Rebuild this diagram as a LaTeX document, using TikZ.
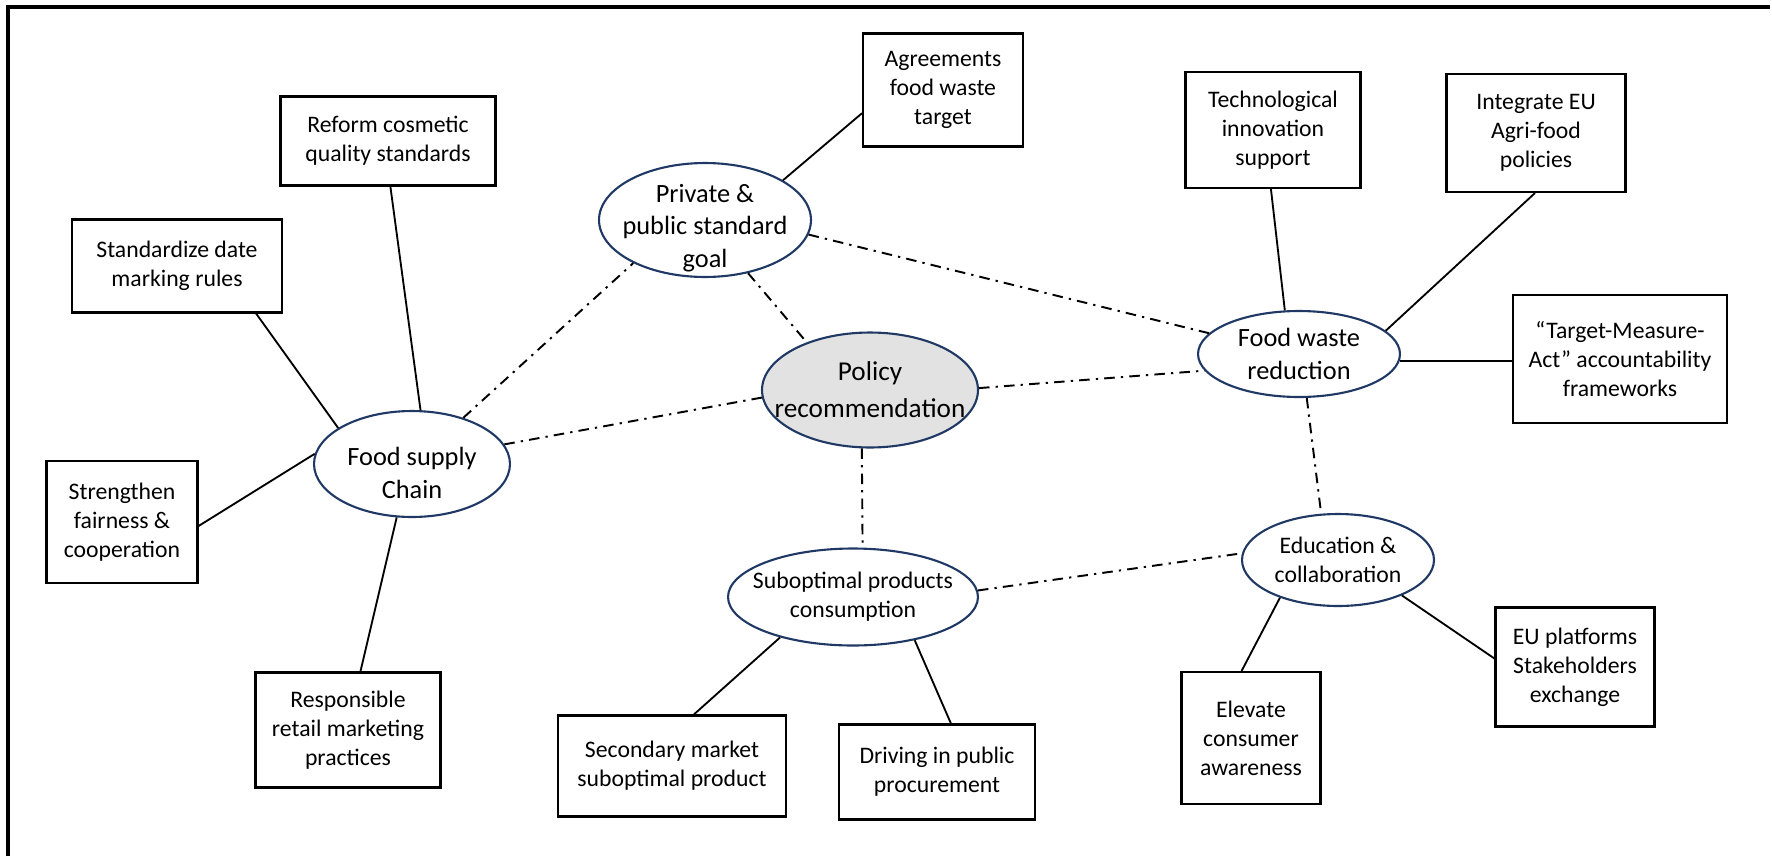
\documentclass[tikz,border=0pt]{standalone}
\usepackage{fontspec}
\setmainfont{Carlito}
\usetikzlibrary{shapes.geometric}
\definecolor{hubline}{RGB}{31,56,100}
\definecolor{hubfill}{RGB}{226,226,226}
\tikzset{
  leaf/.style={draw, line width=1.2pt, align=center, inner sep=0pt, font=\fontsize{13.5}{16.5}\selectfont},
  hub/.style={ellipse, draw=hubline, line width=1.2pt, inner sep=0pt},
  hubtext/.style={align=center, font=\fontsize{15}{18.5}\selectfont},
  smalltext/.style={align=center, font=\fontsize{13.5}{16.5}\selectfont},
  link/.style={line width=1.05pt},
  dlink/.style={line width=1.1pt, dash pattern=on 6pt off 3.5pt on 1.3pt off 3.5pt},
}
\begin{document}
\begin{tikzpicture}[x=0.02cm, y=-0.02cm]
  \useasboundingbox (0,0) rectangle (1772,856);
  \draw[line width=2.3pt] (8,856) -- (8,7) -- (1770,7);

  \node[hub, fill=hubfill, minimum width=4.32cm, minimum height=2.3cm, label={[hubtext, font=\fontsize{15.5}{21}\selectfont]center:Policy\\recommendation}] (policy) at (870,390) {};
  \node[hub, minimum width=4.24cm, minimum height=2.28cm, label={[hubtext, yshift=-0.16cm]center:Private \&\\public standard\\goal}] (psg) at (705,220) {};
  \node[hub, minimum width=3.92cm, minimum height=2.12cm, label={[hubtext, yshift=-0.18cm]center:Food supply\\Chain}] (fsc) at (412,464) {};
  \node[hub, minimum width=4.04cm, minimum height=1.72cm, label={[hubtext]center:Food waste\\reduction}] (fwr) at (1299,354) {};
  \node[hub, minimum width=5cm, minimum height=1.94cm, label={[smalltext]center:Suboptimal products\\consumption}] (sub) at (853,597) {};
  \node[hub, minimum width=3.84cm, minimum height=1.84cm, label={[smalltext]center:Education \&\\collaboration}] (edu) at (1338,560) {};

  \node[leaf, minimum width=3.2cm, minimum height=2.26cm] (agree) at (943,90) {Agreements\\food waste\\target};
  \node[leaf, minimum width=4.3cm, minimum height=1.78cm] (reform) at (388,141) {Reform cosmetic\\quality standards};
  \node[leaf, minimum width=4.2cm, minimum height=1.86cm] (datemark) at (177,266) {Standardize date\\marking rules};
  \node[leaf, minimum width=3.02cm, minimum height=2.44cm] (fair) at (122,522) {Strengthen\\fairness \&\\cooperation};
  \node[leaf, minimum width=3.7cm, minimum height=2.3cm] (retail) at (348,730) {Responsible\\retail marketing\\practices};
  \node[leaf, minimum width=4.56cm, minimum height=2.02cm] (second) at (672,766) {Secondary market\\suboptimal product};
  \node[leaf, minimum width=3.92cm, minimum height=1.9cm] (procure) at (937,772) {Driving in public\\procurement};
  \node[leaf, minimum width=2.78cm, minimum height=2.64cm] (aware) at (1251,738) {Elevate\\consumer\\awareness};
  \node[leaf, minimum width=3.18cm, minimum height=2.38cm] (euplat) at (1575,667) {EU platforms\\Stakeholders\\exchange};
  \node[leaf, minimum width=3.5cm, minimum height=2.32cm] (tech) at (1273,130) {Technological\\innovation\\support};
  \node[leaf, minimum width=3.58cm, minimum height=2.36cm] (agri) at (1536,133) {Integrate EU\\Agri-food\\policies};
  \node[leaf, minimum width=4.28cm, minimum height=2.56cm] (target) at (1620,359) {“Target-Measure-\\Act” accountability\\frameworks};

  \draw[link] (reform.-87) -- (fsc.81);
  \draw[link] (datemark.-31) -- (fsc.154);
  \draw[link] (fair.-3) -- (fsc.174);
  \draw[link] (retail.78) -- (fsc.254);
  \draw[link] (agree.196) -- (psg.27);
  \draw[link] (tech.-92) -- (fwr.108);
  \draw[link] (agri.-91) -- (fwr.15);
  \draw[link] (fwr.-4) -- (fwr.-4 -| target.west);
  \draw[link] (second.67) -- (sub.209);
  \draw[link] (procure.74) -- (sub.-35);
  \draw[link] (aware.98) -- (edu.213);
  \draw[link] (euplat.174) -- (edu.-29);

  \draw[dlink] (fsc.42) -- (psg.211);
  \draw[dlink] (psg.-51) -- (policy.143);
  \draw[dlink] (psg.-8) -- (fwr.167);
  \draw[dlink] (policy.1) -- (fwr.190);
  \draw[dlink] (policy.184) -- (fsc.12);
  \draw[dlink] (policy.-98) -- (sub.79);
  \draw[dlink] (sub.3) -- (edu.176);
  \draw[dlink] (fwr.-80) -- (edu.110);
\end{tikzpicture}
\end{document}
